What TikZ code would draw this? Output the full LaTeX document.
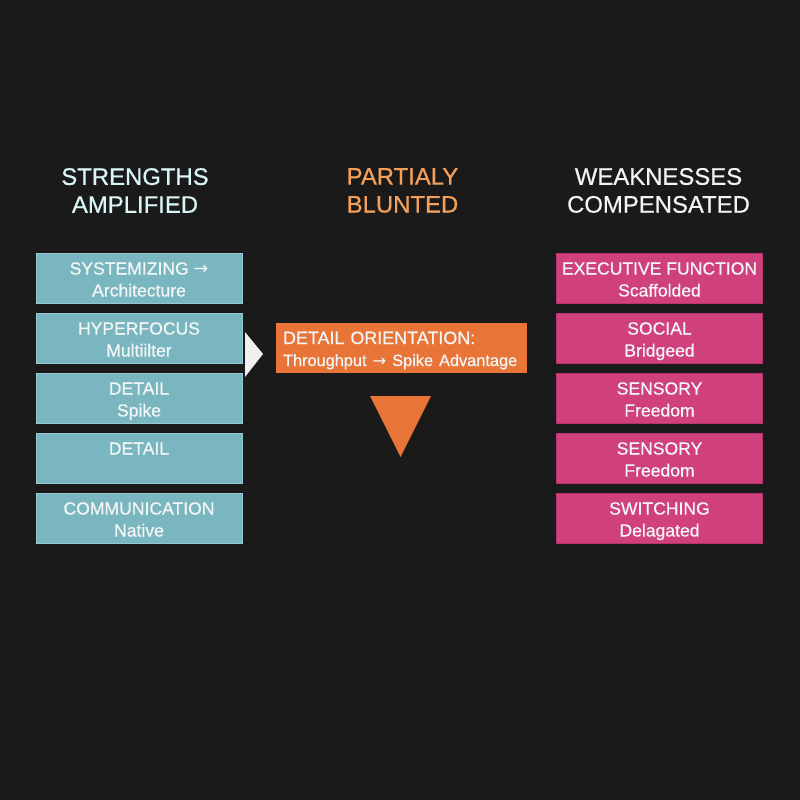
\documentclass[tikz,border=0pt]{standalone}
\usepackage{fontspec}
\setmainfont[FakeBold=0.6]{Liberation Sans}
\newfontfamily\arrowfont{DejaVu Sans}

\definecolor{bgdark}{HTML}{1A1A1A}
\definecolor{tealbox}{HTML}{7AB6C0}
\definecolor{tealedge}{HTML}{93C8D0}
\definecolor{pinkbox}{HTML}{D0407C}
\definecolor{pinkedge}{HTML}{B8336C}
\definecolor{orangebox}{HTML}{E87438}
\definecolor{boxtext}{HTML}{F2F6F6}
\definecolor{titlecyan}{HTML}{D9F5F5}
\definecolor{titleorange}{HTML}{F5A05A}
\definecolor{titlewhite}{HTML}{F4F4F4}

\newcommand{\rarrow}{{\arrowfont\char"2192}}
\newcommand{\topstrut}{\rule{0pt}{11.75pt}}

\tikzset{
	coltitle/.style = {align = center, inner sep = 0pt, font = \fontsize{13.6}{15.9}\selectfont},
	strength/.style = {fill = tealbox, draw = tealedge, line width = .5pt, minimum width = 4.12cm, minimum height = .94cm, inner sep = 0pt, align = center, text = boxtext, font = \fontsize{10}{12.5}\selectfont},
	weakness/.style = {strength, fill = pinkbox, draw = pinkedge},
	blunted/.style = {fill = orangebox, minimum width = 5.02cm, minimum height = 1cm, inner xsep = .14cm, inner ysep = 0pt, text width = 4.74cm, align = left, text = boxtext, font = \fontsize{10.2}{12.5}\selectfont}
}

\begin{document}
\begin{tikzpicture}[x = .02cm, y = -.02cm]
		\fill[bgdark] (0,0) rectangle (800,800);
		\useasboundingbox (0,0) rectangle (800,800);
		
		\node[coltitle, text = titlecyan] (strtitle) at (135,190.5) {STRENGTHS\\AMPLIFIED};
		\node[coltitle, text = titleorange] (parttitle) at (402.5,190.5) {PARTIALY\\BLUNTED};
		\node[coltitle, text = titlewhite] (weaktitle) at (658.5,190.5) {WEAKNESSES\\COMPENSATED};
		
		\node[strength] (sys) at (139,278.5) {\topstrut SYSTEMIZING \rarrow\\\strut Architecture};
		\node[strength] (hyper) at (139,338.5) {\topstrut HYPERFOCUS\\\strut Multiilter};
		\node[strength] (detspike) at (139,398.5) {\topstrut DETAIL\\\strut Spike};
		\node[strength] (detail) at (139,458.5) {\topstrut DETAIL\\\strut};
		\node[strength] (comm) at (139,518.5) {\topstrut COMMUNICATION\\\strut Native};
		
		\node[weakness] (exec) at (659.5,278.5) {\topstrut EXECUTIVE FUNCTION\\\strut Scaffolded};
		\node[weakness] (social) at (659.5,338.5) {\topstrut SOCIAL\\\strut Bridgeed};
		\node[weakness] (sensa) at (659.5,398.5) {\topstrut SENSORY\\\strut Freedom};
		\node[weakness] (sensb) at (659.5,458.5) {\topstrut SENSORY\\\strut Freedom};
		\node[weakness] (switch) at (659.5,518.5) {\topstrut SWITCHING\\\strut Delagated};
		
		\node[blunted] (orient) at (401.5,348) {\topstrut\mbox{DETAIL ORIENTATION:}\\\strut\mbox{\fontsize{9.3}{12.5}\selectfont Throughput \rarrow{} Spike Advantage}};
		
		\fill[white!94!black] (245,332) -- (263,354) -- (245,377) -- cycle;
		\fill[orangebox] (370,396) -- (431,396) -- (400.5,457) -- cycle;
\end{tikzpicture}
\end{document}
